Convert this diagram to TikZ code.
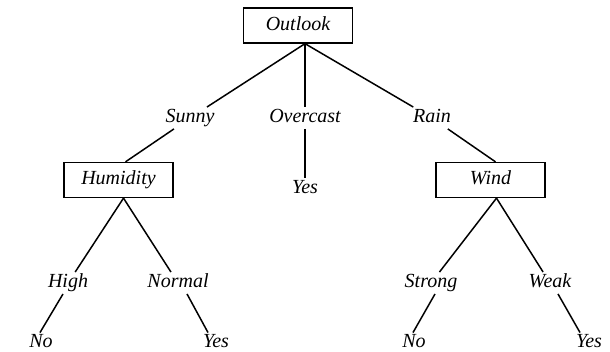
\documentclass[tikz,border=0pt]{standalone}
\usepackage{fontspec}
\setmainfont{Liberation Serif}
\begin{document}
\begin{tikzpicture}[x=1pt,y=-1pt,
  every node/.style={font=\fontsize{20}{24}\itshape, inner sep=2pt,
    text height=13.5pt, text depth=4pt},
  attr/.style={draw, line width=1.3pt, minimum width=109pt, minimum height=35pt, inner sep=0pt},
  lbl/.style={},
  branch/.style={line width=1.5pt}]
\useasboundingbox (0,0) rectangle (610,351);

% attribute boxes
\node[attr] (outlook)  at (298,25.5) {Outlook};
\node[attr] (humidity) at (118.5,180) {Humidity};
\node[attr] (wind)     at (490.5,180) {Wind};

% branch values of Outlook
\node[lbl] (sunny)    at (190,118) {Sunny};
\node[lbl] (overcast) at (305,118) {Overcast};
\node[lbl] (rain)     at (432,118) {Rain};
\node[lbl] (ovyes)    at (305,189) {Yes};

% branch values of Humidity and Wind
\node[lbl] (high)   at (68,283)  {High};
\node[lbl] (normal) at (178,283) {Normal};
\node[lbl] (strong) at (431,283) {Strong};
\node[lbl] (weak)   at (550,283) {Weak};

% leaves
\node[lbl] (no1)  at (41,342.5)  {No};
\node[lbl] (yes1) at (216,342.5) {Yes};
\node[lbl] (no2)  at (414,342.5) {No};
\node[lbl] (yes2) at (589,342.5) {Yes};

% connectors
\draw[branch] ([xshift=7pt]outlook.south) -- (sunny);
\draw[branch] ([xshift=7pt]outlook.south) -- (overcast);
\draw[branch] ([xshift=7pt]outlook.south) -- (rain);
\draw[branch] (sunny) -- ([xshift=7pt]humidity.north);
\draw[branch] (overcast) -- (ovyes);
\draw[branch] (rain) -- ([xshift=5pt]wind.north);
\draw[branch] ([xshift=5pt]humidity.south) -- (high);
\draw[branch] ([xshift=5pt]humidity.south) -- (normal);
\draw[branch] ([xshift=6pt]wind.south) -- (strong);
\draw[branch] ([xshift=6pt]wind.south) -- (weak);
\draw[branch] ([xshift=-5pt]high.south) -- ([xshift=-1pt,yshift=-1pt]no1.north);
\draw[branch] ([xshift=9pt]normal.south) -- ([xshift=-8pt,yshift=-1pt]yes1.north);
\draw[branch] ([xshift=4pt]strong.south) -- ([xshift=-1pt,yshift=-1pt]no2.north);
\draw[branch] ([xshift=8pt]weak.south) -- ([xshift=-9pt,yshift=-1pt]yes2.north);
\end{tikzpicture}
\end{document}
